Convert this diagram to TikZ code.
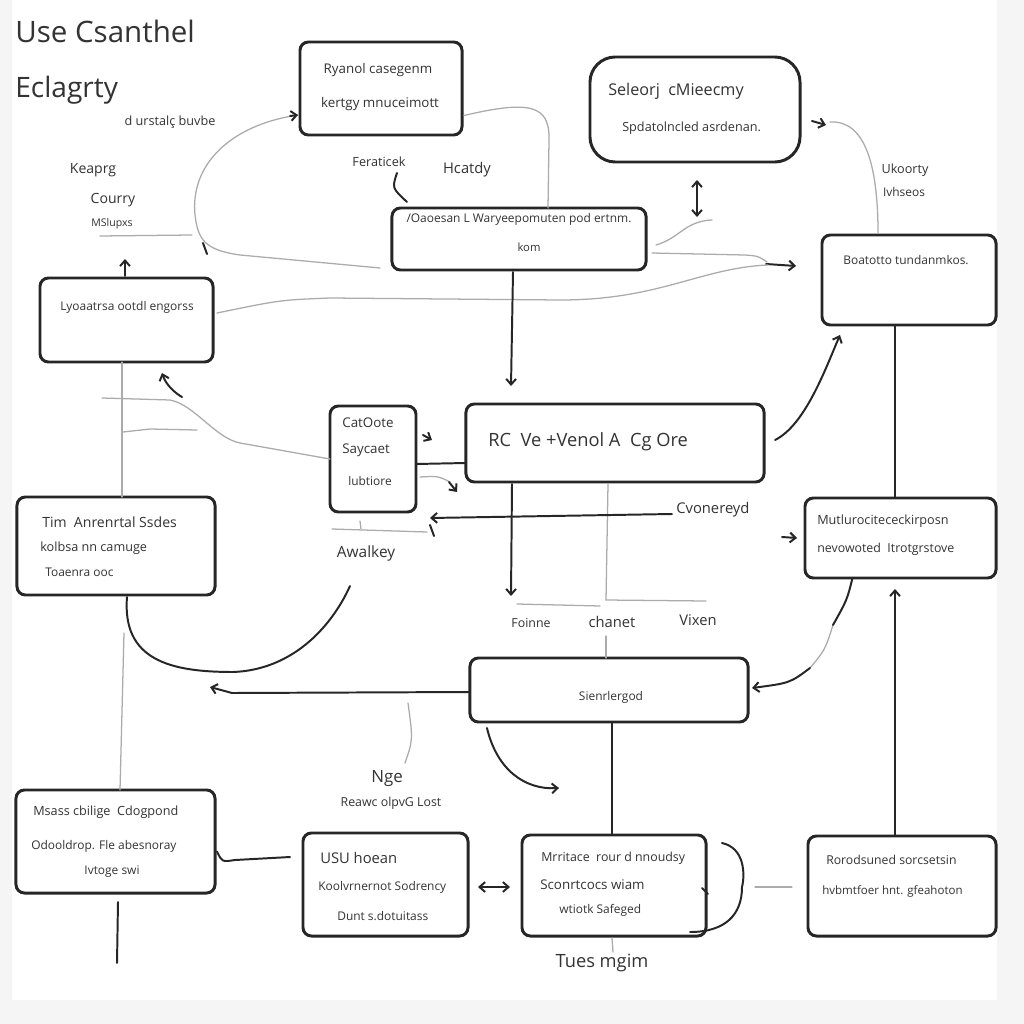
\documentclass[tikz,border=0pt]{standalone}
\usepackage{fontspec}
\setmainfont{Open Sans}
\usetikzlibrary{arrows.meta,calc}
\newcommand\fsz[1]{\fontsize{#1}{#1}\selectfont}
\begin{document}
\begin{tikzpicture}[x=0.025cm,y=-0.025cm,
  box/.style={draw=black!85, line width=2.1pt, rounded corners=6pt, inner sep=0pt, outer sep=0pt, fill=white},
  txt/.style={text=black!80, inner sep=0pt},
  bl/.style={draw=black!85, line width=1.4pt, line cap=round},
  gl/.style={draw=black!33, line width=0.9pt, line cap=round},
  ar/.style={-{Straight Barb[length=4pt,width=7pt]}},
  arr/.style={{Straight Barb[length=4pt,width=7pt]}-{Straight Barb[length=4pt,width=7pt]}},
  garb/.style={-{Straight Barb[length=4pt,width=7pt,color=black!85,line width=1.3pt]}}
]
% page
\fill[black!4] (0,0) rectangle (1024,1024);
\fill[white] (12,0) rectangle (997,1000);
\useasboundingbox (0,0) rectangle (1024,1024);

% boxes
\node[box, minimum width=4.05cm, minimum height=2.325cm] (b1) at (381,88.5) {};
\node[box, rounded corners=18pt, minimum width=5.25cm, minimum height=2.625cm] (b2) at (695,109.5) {};
\node[box, minimum width=6.35cm, minimum height=1.55cm] (b3) at (519,239) {};
\node[box, minimum width=4.35cm, minimum height=2.25cm] (b4) at (909,280) {};
\node[box, minimum width=4.325cm, minimum height=2.1cm] (b5) at (126.5,320) {};
\node[box, minimum width=2.15cm, minimum height=2.65cm] (b6) at (373,459) {};
\node[box, minimum width=7.45cm, minimum height=1.95cm] (b7) at (615,443) {};
\node[box, minimum width=4.95cm, minimum height=2.45cm] (b8) at (116,546) {};
\node[box, minimum width=4.775cm, minimum height=2.0cm] (b9) at (900.5,538) {};
\node[box, minimum width=6.95cm, minimum height=1.6cm] (b10) at (609,690) {};
\node[box, minimum width=4.975cm, minimum height=2.575cm] (b11) at (115.5,841.5) {};
\node[box, minimum width=4.125cm, minimum height=2.575cm] (b12) at (385.5,884.5) {};
\node[box, minimum width=4.6cm, minimum height=2.525cm] (b13) at (614,885.5) {};
\node[box, minimum width=4.7cm, minimum height=2.5cm] (b14) at (902,886) {};

% box texts
\node[txt, font=\fsz{9.5}] (b1a) at (378,70) {Ryanol casegenm};
\node[txt, font=\fsz{9.5}] (b1b) at (380,104) {kertgy mnuceimott};
\node[txt, font=\fsz{11.5}, anchor=west] (b2a) at (608,91) {Seleorj\ \ cMieecmy};
\node[txt, font=\fsz{9}, anchor=west] (b2b) at (622,128) {Spdatolncled asrdenan.};
\node[txt, font=\fsz{8.5}] (b3a) at (519,219) {/Oaoesan L Waryeepomuten pod ertnm.};
\node[txt, font=\fsz{8}] (b3b) at (529,247) {kom};
\node[txt, font=\fsz{8.5}] (b4a) at (906,260) {Boatotto tundanmkos.};
\node[txt, font=\fsz{8.5}] (b5a) at (127,307) {Lyoaatrsa ootdl engorss};
\node[txt, font=\fsz{9.5}] (b6a) at (368,423) {CatOote};
\node[txt, font=\fsz{9.5}] (b6b) at (366,450) {Saycaet};
\node[txt, font=\fsz{8.5}] (b6c) at (370,481) {lubtiore};
\node[txt, font=\fsz{13}, anchor=west] (b7a) at (488,442) {RC\ \ Ve +Venol\ A\ \ Cg Ore};
\node[txt, font=\fsz{10}, anchor=west] (b8a) at (42,522) {Tim\ \ Anrenrtal Ssdes};
\node[txt, font=\fsz{9}, anchor=west] (b8b) at (40,548) {kolbsa nn camuge};
\node[txt, font=\fsz{8.5}, anchor=west] (b8c) at (45,572) {Toaenra ooc};
\node[txt, font=\fsz{9}, anchor=west] (b9a) at (817,521) {Mutlurocitececkirposn};
\node[txt, font=\fsz{8.8}, anchor=west] (b9b) at (817,549) {nevowoted\ \ Itrotgrstove};
\node[txt, font=\fsz{8.5}] (b10a) at (611,697) {Sienrlergod};
\node[txt, font=\fsz{9}, anchor=west] (b11a) at (33,812) {Msass cbilige\ \ Cdogpond};
\node[txt, font=\fsz{8.5}, anchor=west] (b11b) at (31,846) {Odooldrop. Fle abesnoray};
\node[txt, font=\fsz{8.5}] (b11c) at (112,872) {Ivtoge swi};
\node[txt, font=\fsz{10.5}, anchor=west] (b12a) at (320,858) {USU hoean};
\node[txt, font=\fsz{8.5}, anchor=west] (b12b) at (318,887) {Koolvrnernot Sodrency};
\node[txt, font=\fsz{8.5}, anchor=west] (b12c) at (337,916) {Dunt s.dotuitass};
\node[txt, font=\fsz{8.8}, anchor=west] (b13a) at (541,858) {Mrritace\ \ rour d nnoudsy};
\node[txt, font=\fsz{9.5}, anchor=west] (b13b) at (540,885) {Sconrtcocs wiam};
\node[txt, font=\fsz{8.5}, anchor=west] (b13c) at (559,910) {wtiotk Safeged};
\node[txt, font=\fsz{8.7}, anchor=west] (b14a) at (826,860) {Rorodsuned sorcsetsin};
\node[txt, font=\fsz{8.2}, anchor=west] (b14b) at (822,891) {hvbmtfoer hnt. gfeahoton};

% free labels
\node[txt, font=\fsz{21}, anchor=west] (l1) at (15,31) {Use Csanthel};
\node[txt, font=\fsz{20}, anchor=west] (l2) at (15,90) {Eclagrty};
\node[txt, font=\fsz{9}] (l3) at (170,122) {d urstalç buvbe};
\node[txt, font=\fsz{10}] (l4) at (93,170) {Keaprg};
\node[txt, font=\fsz{10}] (l5) at (113,200) {Courry};
\node[txt, font=\fsz{7.5}] (l6) at (112,224) {MSlupxs};
\node[txt, font=\fsz{9}] (l7) at (379,162) {Feraticek};
\node[txt, font=\fsz{10.5}] (l8) at (467,170) {Hcatdy};
\node[txt, font=\fsz{9}] (l9) at (905,170) {Ukoorty};
\node[txt, font=\fsz{8.5}] (l10) at (904,192) {Ivhseos};
\node[txt, font=\fsz{11}] (l11) at (366,553) {Awalkey};
\node[txt, font=\fsz{10.5}, anchor=west] (l12) at (676,510) {Cvonereyd};
\node[txt, font=\fsz{8.8}] (l13) at (531,623) {Foinne};
\node[txt, font=\fsz{10.5}] (l14) at (612,622) {chanet};
\node[txt, font=\fsz{10.5}] (l15) at (698,620) {Vixen};
\node[txt, font=\fsz{12}] (l16) at (387,778) {Nge};
\node[txt, font=\fsz{8.8}] (l17) at (391,803) {Reawc olpvG Lost};
\node[txt, font=\fsz{13}] (l18) at (602,963) {Tues mgim};

% named free ends
\coordinate (c1) at (298,115);
\coordinate (c2) at (380,268);

% ---- grey connectors ----
\draw[gl] (100,236) -- (192,235);
\draw[gl] (c1) .. controls (230,125) and (190,165) .. (195,215) .. controls (198,240) and (205,250) .. (240,255) -- (c2);
\draw[bl] (203,243) -- (207,254);
\draw[bl, ar] (290,116) -- (c1);
\draw[gl] ($(b1.east)+(2,27)$) .. controls (530,100) and (550,105) .. (549,140) -- ($(b3.north)+(29,0)$);
\draw[gl] ($(b3.east)+(10,6)$) .. controls (680,238) and (685,221) .. (712,220);
\draw[gl] ($(b3.east)+(6,14)$) -- (745,255) .. controls (758,256) .. (767,262);
\draw[bl, ar] (766,264) -- (796,266);
\draw[gl] ($(b5.east)+(4,-7)$) .. controls (280,300) .. (330,298) -- (560,300) .. controls (660,300) and (700,268) .. (768,265);
\draw[bl, ar] (812,121) -- (826,125);
\draw[gl] (830,122) .. controls (865,120) and (878,165) .. ($(b4.north)+(-31,-2)$);
\draw[gl] (b5.south -| 122,0) -- (122,497);
\draw[gl] (124,633) -- (120,790);
\draw[gl] (b6.west) -- (240,443) .. controls (215,438) and (195,405) .. (170,400) -- (102,398);
\draw[gl] (123,432) -- (150,429) -- (197,430);
\draw[gl] (420,477) .. controls (438,476) .. (450,482);
\draw[bl, ar] (449,482) -- (457,492);
\draw[gl] (332,529) -- (427,532);
\draw[gl] (360,521) -- (361,529);
\draw[gl] ($(b7.south)+(-7,2)$) -- (606,600);
\draw[gl] (517,604) -- (600,606);
\draw[gl] (606,600) -- (706,601);
\draw[gl] (606,636) -- (b10.north -| 606,0);
\draw[gl] (408,703) .. controls (413,740) .. (405,763);
\draw[gl] (755,887) -- (792,887);
\draw[gl] (612,938) -- (613,952);
\draw[gl] (833,625) .. controls (825,650) .. (810,668);

% ---- black connectors ----
\draw[bl] (397,173) .. controls (392,188) .. (407,202);
\draw[bl, arr] (697,180) -- (697,217);
\draw[bl, ar] ($(b3.south)+(-6,2)$) -- (511,386);
\draw[bl, ar] ($(b7.east)+(11,-3)$) .. controls (805,425) and (825,370) .. ($(b4.south west)+(18,10)$);
\draw[bl] (b4.south -| 895,0) -- (b9.north -| 895,0);
\draw[bl, ar] (182,397) .. controls (175,393) and (166,385) .. (162,373);
\draw[bl, ar] (423,435) -- (432,440);
\draw[bl] ($(b6.east)+(0,5)$) -- ($(b7.west)+(0,20)$);
\draw[bl, ar] ($(l12.west)+(-4,4)$) -- (430,518);
\draw[bl] (430,525) -- (434,536);
\draw[bl, ar] ($(b7.south)+(-103,2)$) -- (511,596);
\draw[bl, ar] (782,537) -- (797,538);
\draw[bl] ($(b9.south)+(-48,0)$) .. controls (847,600) .. (833,625);
\draw[bl, ar] (810,668) .. controls (790,683) .. ($(b10.east)+(4,-2)$);
\draw[bl, ar] (b14.north -| 895,0) -- (895,589);
\draw[bl] (b10.south -| 612,0) -- (b13.north -| 612,0);
\draw[bl, ar] ($(b10.south west)+(17,6)$) .. controls (497,770) and (525,790) .. (559,788);
\draw[bl, ar] ($(b10.west)+(0,2)$) -- (232,693) -- (210,687);
\draw[bl] ($(b8.south)+(11,2)$) .. controls (122,660) and (170,672) .. (233,672) .. controls (290,670) and (330,630) .. (350,586);
\draw[bl] ($(b11.east)+(2,10)$) .. controls (222,862) .. (235,860) -- (290,857);
\draw[bl] (118,902) -- (117,963);
\draw[bl, arr] (478,887) -- (510,887);
\draw[bl] (722,843) .. controls (745,848) and (745,875) .. (742,887) .. controls (742,915) and (725,932) .. (690,932);
\draw[bl] (702,888) -- (708,894);
\draw[bl, ar] (125,276) -- (125,259);
\end{tikzpicture}
\end{document}
